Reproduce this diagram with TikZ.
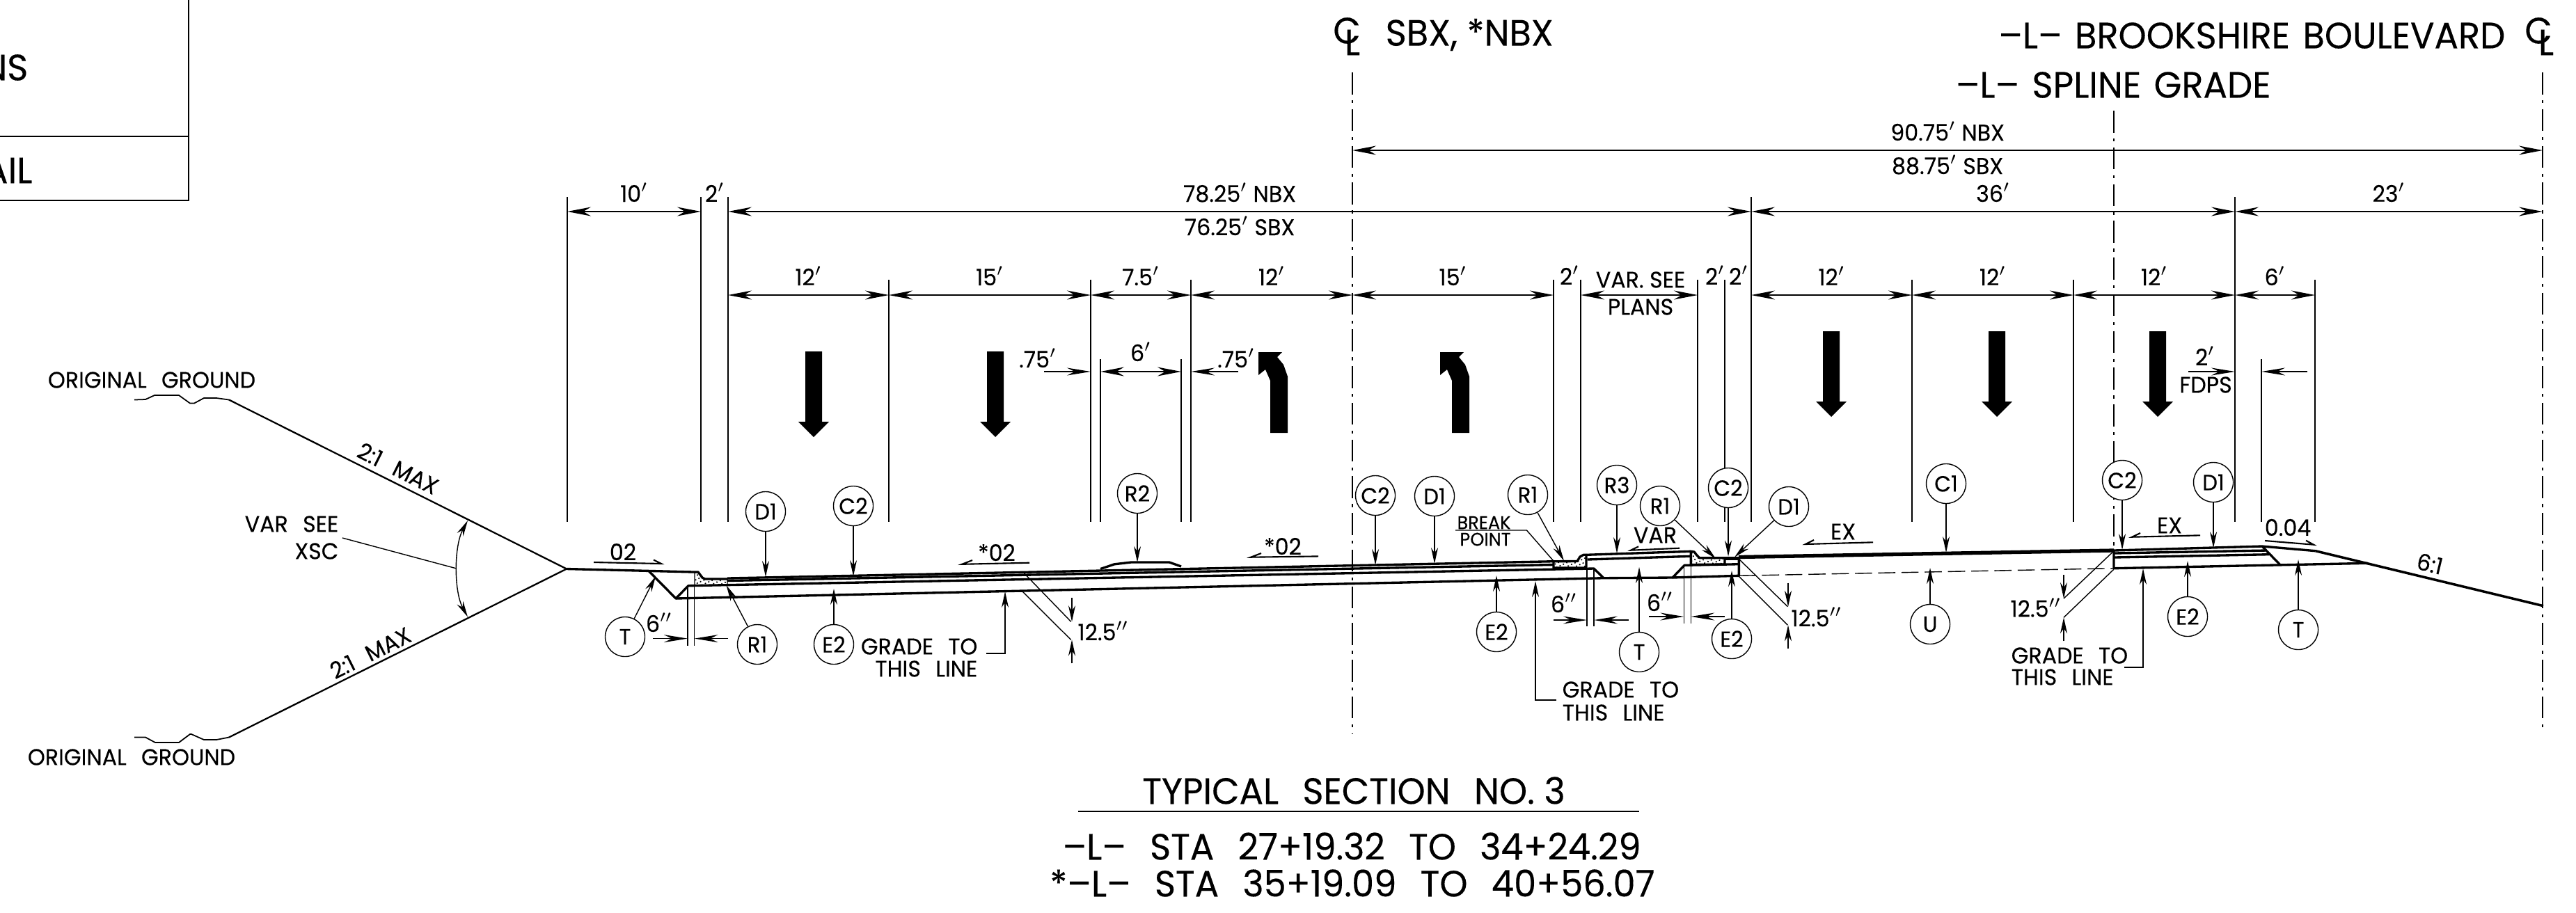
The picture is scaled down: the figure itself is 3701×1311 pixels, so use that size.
\documentclass[tikz,border=0pt]{standalone}
\usepackage{fontspec}
\setmainfont[FakeStretch=0.97,FakeBold=0.25]{Poppins}
\usetikzlibrary{arrows.meta,patterns.meta}
\newcommand{\gap}{\hspace{0.65em}}
\newcommand{\headgap}{\hspace{0.35em}}
\tikzset{
    dimptr/.style={
        <->,
        >={Stealth[length=3.4mm,width=1.3mm]},
        line width=0.5pt
    },
    dimend/.style={
        ->,
        >={Stealth[length=3.4mm,width=1.1mm]},
        line width=0.4pt
    },
    myptr/.style={
        ->,
        >={Stealth[length=2.3mm,width=1mm]},
        line width=0.4pt
    },
    extline/.style={line width=0.4pt},
    cline/.style={line width=0.4pt,dash pattern=on 9pt off 2.4pt on 1.2pt off 2.4pt},
    road/.style={line width=0.95pt,line join=round},
    slopeline/.style={line width=0.65pt,line join=round},
    surf/.style={line width=1.5pt},
    slopemark/.style={line width=0.6pt},
    smalltxt/.style={font=\fontsize{9.3}{10}\selectfont,inner sep=0pt},
    tinytxt/.style={font=\fontsize{7.5}{8}\selectfont,inner sep=0pt},
    bigtxt/.style={font=\fontsize{15}{16}\selectfont,inner sep=0pt},
    tag/.style={draw,circle,fill=white,minimum size=5.7mm,inner sep=0pt,line width=0.4pt,font=\fontsize{9}{10}\selectfont},
    stipple/.style={pattern={Dots[distance=1.5pt,radius=0.35pt,angle=25]}}
}

\begin{document}
\begin{tikzpicture}[x=0.01cm,y=-0.01cm]
    \useasboundingbox (0,0) rectangle (3701,1311);

    % draw corner box
    \draw[line width=0.5pt] (271,0) -- (271,288) -- (0,288);
    \draw[line width=0.8pt] (0,196) -- (271,196);
    \node[bigtxt,anchor=east] (boxa) at (41,97) {NS};
    \node[bigtxt,anchor=east] (boxb) at (47,245) {AIL};

    % draw centre lines and headings
    \foreach \n/\x/\top/\bot in {cls/1943/104/1054, cll/3037/159/790, clr/3653/104/1053}
    {
        \coordinate (\n) at (\x,\top);
        \coordinate (\n b) at (\x,\bot);
        \draw[cline] (\n) -- (\n b);
    }
    \node[bigtxt] (cc1) at (1935,44) {C};
    \node[bigtxt] (cl1) at (1943,61) {L};
    \node[bigtxt] (cc2) at (3647,44) {C};
    \node[bigtxt] (cl2) at (3658,61) {L};
    \node[bigtxt,anchor=west] (hsbx) at (1990,50) {SBX, *NBX};
    \node[bigtxt,anchor=east] (hbrook) at (3600,51) {--L--\headgap BROOKSHIRE\headgap BOULEVARD};
    \node[bigtxt,anchor=west] (hspline) at (2809,122) {--L--\headgap SPLINE\headgap GRADE};

    % draw extension lines
    \foreach \n/\x/\top in {sha/815/283, shb/1007/283, eda/1046/283, laa/1277/402, lab/1567/402,
        lac/1711/402, isa/1581/516, isb/1697/516, mda/2232/402, mdb/2271/402, mdc/2439/402,
        mdd/2478/402, ede/2516/283, laf/2747/402, lag/2979/402, psa/3211/283, fda/3249/516, fta/3326/402}
    {
        \coordinate (\n) at (\x,\top);
        \coordinate (\n b) at (\x,750);
        \draw[extline] (\n) -- (\n b);
    }

    % draw dimension arrows
    \foreach \a/\b/\y/\t in {sha/shb/304/10, ede/psa/304/36, psa/clr/304/23,
        eda/laa/424/12, laa/lab/424/15, lab/lac/424/7.5, lac/cls/424/12, cls/mda/424/15,
        ede/laf/424/12, laf/lag/424/12, lag/psa/424/12, psa/fta/424/6}
    {
        \draw[dimptr] (\a |- 0,\y) -- node[smalltxt,anchor=base,midway,yshift=1.4mm] (d\a\b) {\t$'$} (\b |- 0,\y);
    }
    \draw[dimptr] (eda |- 0,304) -- node[smalltxt,anchor=base,midway,yshift=1.4mm] (dnbxa) {78.25$'$ NBX}
        node[smalltxt,anchor=base,midway,yshift=-3.4mm] (dsbxa) {76.25$'$ SBX} (ede |- 0,304);
    \draw[dimptr] (cls |- 0,216) -- node[smalltxt,anchor=base,midway,yshift=1.4mm] (dnbxb) {90.75$'$ NBX}
        node[smalltxt,anchor=base,midway,yshift=-3.4mm] (dsbxb) {88.75$'$ SBX} (clr |- 0,216);
    \draw[dimptr] (mdb |- 0,424) -- (mdc |- 0,424);
    \draw[dimptr] (isa |- 0,534) -- (isb |- 0,534);
    \draw[dimend] (1500,534) -- (lab |- 0,534);
    \draw[dimend] (1779,534) -- (lac |- 0,534);
    \draw[dimend] (3144,534) -- (psa |- 0,534);
    \draw[dimend] (3315,534) -- (fda |- 0,534);

    % draw dimension labels
    \foreach \n/\x/\y/\t in {dtwoa/1027/290/2, dtwob/2255/409/2, dtwoc/2464/409/2, dtwod/2498/409/2,
        dsix/1639/519/6, dpta/1491/528/.75, dptb/1776/528/.75, dtwoe/3168/525/2}
    {
        \node[smalltxt,anchor=base] (\n) at (\x,\y) {\t$'$};
    }
    \node[smalltxt] (dvar) at (2357,402) {VAR. SEE};
    \node[smalltxt] (dplans) at (2357,441) {PLANS};
    \node[smalltxt] (dfdps) at (3169,553) {FDPS};

    % draw lane arrows
    \foreach \x/\y in {1169/505, 1430/505, 2631/476, 2869/476, 3100/476}
    {
        \fill (\x-12,\y) -- (\x+12,\y) -- (\x+12,\y+101) -- (\x+22,\y+101) -- (\x,\y+123)
            -- (\x-22,\y+101) -- (\x-12,\y+101) -- cycle;
    }
    \foreach \x in {1825, 2086}
    {
        \fill (\x,622) -- (\x+25,622) -- (\x+25,541) -- (\x+19,524) -- (\x+10,513) -- (\x+17,506)
            -- (\x-17,506) -- (\x-17,539) -- (\x-7,531) -- (\x,547) -- cycle;
    }

    % draw side slopes
    \draw[line width=0.5pt] (193,574.5) -- (209,574) -- (222,568) -- (257,568) -- (273,579.5) -- (279,579.5)
        -- (293,572) -- (311,572) -- (329,574.5);
    \draw[line width=0.5pt] (193,1059.5) -- (209,1059.5) -- (223,1067) -- (257,1067) -- (273,1055) -- (275,1055)
        -- (293,1063) -- (311,1063) -- (329,1059.5);
    \draw[slopeline] (329,574.5) -- (814,817.5) -- (329,1059.5);
    \node[smalltxt] (ogta) at (218,546) {ORIGINAL\gap GROUND};
    \node[smalltxt] (ogtb) at (189,1088) {ORIGINAL\gap GROUND};
    \node[smalltxt,rotate=-26.6] (maxa) at (572,673) {2:1\gap MAX};
    \node[smalltxt,rotate=26.6] (maxb) at (532,938) {2:1\gap MAX};
    \node[smalltxt,anchor=east] (vsee) at (487,753) {VAR\gap SEE};
    \node[smalltxt,anchor=east] (vxsc) at (487,792) {XSC};
    \draw[extline] (492,773) -- (656,817);
    \draw[myptr,<->] (672,748) .. controls (652,785) and (652,850) .. (672,886.5);

    % draw left roadway
    \draw[road] (814,817.5) -- (997,822) -- (1003,822) -- (1009,830) -- (1013,832) -- (1045,832);
    \draw[road] (932.5,821) -- (971,860) -- (989,841.7) -- (2290,817) -- (2304,830.7);
    \draw[road] (971,860) -- (2304,830.7) -- (2403,830) -- (2420,812.3) -- (2498,810.7);
    \draw[road] (1045,831) -- (2232,806.7);
    \draw[road] (1045,834.5) -- (2232,811.5);
    \draw[road] (1581,817.5) -- (1601,810.8) -- (1625,808) -- (1680,808) -- (1697,814);
    \draw[stipple,line width=0.4pt] (998,823) -- (1003,822) -- (1009,830) -- (1013,832) -- (1045,832) -- (1045,841) -- (998,841) -- cycle;

    % draw median
    \draw[stipple,road] (2232,806.7) -- (2266,806.5) -- (2270,800) -- (2275,797.3) -- (2279,797.3) -- (2279,816) -- (2232,816) -- cycle;
    \draw[stipple,road] (2429.3,792.3) -- (2434,793) -- (2438,798) -- (2441.7,801.7) -- (2478,801.7) -- (2478,811) -- (2429.3,811.5) -- cycle;
    \draw[road] (2279,797.3) -- (2429.3,792.3);
    \draw[road] (2280.7,804) -- (2429.3,799.3);
    \draw[road] (2478,801.7) -- (2498.3,801.7) -- (2498.3,827.3) -- (2403,830);
    \draw[extline] (2478,804) -- (2498,804);

    % draw right roadway
    \draw[surf] (2498,800.5) -- (3037,791);
    \draw[road] (3037,791) -- (3250,785) -- (3326.7,791.7);
    \draw[line width=1pt] (3326.7,791.7) -- (3654,870.7);
    \draw[road] (3037,791) -- (3037,816.7) -- (3401.7,809.3);
    \draw[road] (3037,795) -- (3256.7,791);
    \draw[road] (3037,801) -- (3260,796.7);
    \draw[road] (3250,785) -- (3276,811.7);
    \draw[line width=0.4pt,dash pattern=on 7pt off 2.5pt] (2498,827.3) -- (3037,816.7);

    % draw 12.5 in dimensions
    \foreach \xa/\ya/\xb/\yb/\xc/\yc/\xd/\yd/\xe/\xl/\yl/\n in {
        1469/821.3/1538.7/893.3/1469/850/1538.7/919.4/1540/1585/906.7/tha,
        2498.3/803.3/2568.3/871.7/2498.3/828.3/2568.3/898.3/2569/2610/886.7/thb,
        3037/791.7/2965/860/3036.7/818.3/2965/887.3/2965/2925/873/thc}
    {
        \draw[extline] (\xa,\ya) -- (\xb,\yb);
        \draw[extline] (\xc,\yc) -- (\xd,\yd);
        \draw[myptr] (\xe,\yb-34) -- (\xe,\yb);
        \draw[myptr] (\xe,\yd+34) -- (\xe,\yd);
        \node[smalltxt] (\n) at (\xl,\yl) {12.5$''$};
    }

    % draw 6 in dimensions
    \foreach \xa/\xb/\ya/\yb/\y/\xl/\xr/\xt/\yt/\n in {
        988/997.6/841/928/917.6/938/1046/947/908/sa,
        2280/2290/816/900/891/2232/2340/2247/880/sb,
        2419.3/2429.3/812/896/886/2369/2478/2385/878/sc}
    {
        \draw[extline] (\xa,\ya) -- (\xa,\yb);
        \draw[extline] (\xb,\ya) -- (\xb,\yb);
        \draw[dimend] (\xl,\y) -- (\xa,\y);
        \draw[dimend] (\xr,\y) -- (\xb,\y);
        \node[smalltxt,anchor=base] (\n) at (\xt,\yt) {6$''$};
    }

    % draw slope marks
    \foreach \t/\x/\y/\xa/\ya/\xb/\yb/\xc/\yc/\n in {
        02/895/793/853/808/950/810/939/804.5/sma,
        *02/1432/794/1479/808.7/1382/810.8/1397/805/smb,
        *02/1843/785/1894/799.4/1797/800.7/1812/795/smc,
        VAR/2378/769/2413/787.7/2343/790.7/2354/785.3/smd,
        EX/2648/764/2691/779.3/2594/782/2606/776/sme,
        EX/3117/755/3161/769.3/3063/771.7/3075/766/smf,
        0.04/3287/758/3254/777/3324/782.7/3313/776.7/smg}
    {
        \node[smalltxt] (\n) at (\x,\y) {\t};
        \draw[slopemark] (\xa,\ya) -- (\xb,\yb) -- (\xc,\yc);
    }
    \node[smalltxt,rotate=-13.5] (ssix) at (3491,810) {6:1};

    % draw break point
    \node[tinytxt] (brka) at (2132,751) {BREAK};
    \node[tinytxt] (brkb) at (2134,775) {POINT};
    \draw[extline] (2091,762) -- (2193.4,762) -- (2232.4,806.6);

    % draw grade notes
    \node[smalltxt,anchor=east] (gaa) at (1405,929) {GRADE\gap TO};
    \node[smalltxt,anchor=east] (gab) at (1405,961) {THIS\gap LINE};
    \node[smalltxt,anchor=west] (gba) at (2244,991) {GRADE\gap TO};
    \node[smalltxt,anchor=west] (gbb) at (2244,1024) {THIS\gap LINE};
    \node[smalltxt,anchor=west] (gca) at (2889,942) {GRADE\gap TO};
    \node[smalltxt,anchor=west] (gcb) at (2889,973) {THIS\gap LINE};
    \coordinate (gat) at (1444,850);
    \coordinate (gbt) at (2206,835);
    \coordinate (gct) at (3079,817);
    \draw[myptr] (1417,939) -- (1444,939) -- (gat);
    \draw[myptr] (2236,1006) -- (2206,1006) -- (gbt);
    \draw[myptr] (3052,959) -- (3079,959) -- (gct);

    % draw callouts
    \foreach \n/\t/\x/\y/\tx/\ty in {
        da/D1/1100/735/1100/829, ca/C2/1226/727/1226/828, ta/T/898/915/942/828,
        ra/R1/1088/926/1043.5/841, ea/E2/1198/926/1198/846, rb/R2/1634/709/1634/808,
        cb/C2/1976/712/1976/812, db/D1/2061/713/2061/810, rc/R1/2195/711/2247/806,
        rd/R3/2323/697/2323/795, re/R1/2385/727/2465/802.7, cc/C2/2483/701/2483/799.5,
        dc/D1/2570/728/2492/800.7, eb/E2/2150/908/2150/827, tb/T/2355/937/2355/815,
        ec/E2/2488/918/2488/820, ch/C1/2796/695/2796/794, cd/C2/3049/690/3049/790,
        dd/D1/3180/693/3180/787.3, ua/U/2773/897/2773/816, ed/E2/3143/886/3143/806,
        td/T/3302/905/3302/804}
    {
        \node[tag] (\n) at (\x,\y) {\t};
        \coordinate (\n t) at (\tx,\ty);
        \draw[myptr] (\n) -- (\n t);
    }

    % draw title
    \node[bigtxt] (ttl) at (1945,1136) {TYPICAL\gap SECTION\gap NO. 3};
    \coordinate (rula) at (1549,1166);
    \coordinate (rulb) at (2355,1166);
    \draw[extline] (rula) -- (rulb);
    \node[bigtxt] (stna) at (1942,1216) {--L--\gap STA\gap 27+19.32\gap TO\gap 34+24.29};
    \node[bigtxt] (stnb) at (1943,1269) {*--L--\gap STA\gap 35+19.09\gap TO\gap 40+56.07};
\end{tikzpicture}
\end{document}
